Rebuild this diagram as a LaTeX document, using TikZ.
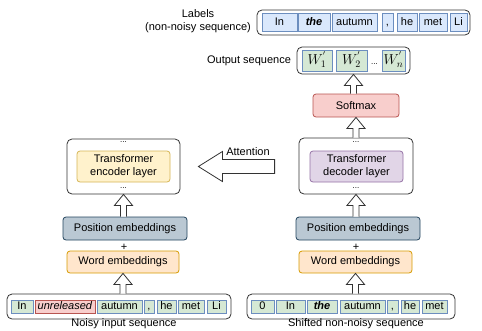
\documentclass[tikz,border=0pt]{standalone}
\usepackage[no-math]{fontspec}
\setmainfont{Liberation Sans}
\usepackage{amsmath}
\usetikzlibrary{calc}

\definecolor{tokgreen}{HTML}{D5E8D4}
\definecolor{tokblue}{HTML}{DAE8FC}
\definecolor{edgeblue}{HTML}{6C8EBF}
\definecolor{tokred}{HTML}{F8CECC}
\definecolor{edgered}{HTML}{B85450}
\definecolor{weorange}{HTML}{FFE6CC}
\definecolor{edgeorange}{HTML}{D79B00}
\definecolor{pegray}{HTML}{BAC8D3}
\definecolor{edgegray}{HTML}{23445D}
\definecolor{encyellow}{HTML}{FFF2CC}
\definecolor{edgeyellow}{HTML}{D6B656}
\definecolor{decpurple}{HTML}{E1D5E7}
\definecolor{edgepurple}{HTML}{9673A6}

% block arrow pointing up, from #1 (bottom) to #2 (top)
\newcommand{\blockup}[2]{%
  \draw[blockarr] let \p1=(#1), \p2=(#2) in
    (\x2-3pt,\y1) -- (\x2-3pt,\y2-11pt) -- (\x2-9pt,\y2-11pt) -- (\x2,\y2)
    -- (\x2+9pt,\y2-11pt) -- (\x2+3pt,\y2-11pt) -- (\x2+3pt,\y1);}

\begin{document}
\begin{tikzpicture}[x=1pt,y=-1pt,font=\fontsize{11}{13}\selectfont,
    outer/.style={draw=black!80,fill=white,rounded corners=5pt,line width=0.8pt},
    tokg/.style={draw=edgeblue,fill=tokgreen,inner sep=0pt,line width=0.6pt,text height=8pt,text depth=2pt},
    tokb/.style={tokg,fill=tokblue},
    tokr/.style={tokg,draw=edgered,fill=tokred},
    block/.style={rounded corners=3pt,line width=0.8pt,inner sep=0pt,align=center},
    dots/.style={font=\fontsize{8}{8}\selectfont,inner sep=0pt},
    blockarr/.style={draw=black!80,fill=white,line width=0.8pt,line join=miter}]
  \useasboundingbox (0,0) rectangle (482,330);

  % labels (top row)
  \node[align=center] (lbltxt) at (198,21.5) {Labels\\(non-noisy sequence)};
  \node[outer,minimum width=213,minimum height=25] (lbl) at (363.5,22.5) {};
  \foreach \nm/\xa/\xb/\t in {l1/262/297/In, l2/298/330/{\textbf{\textit{the}}}, l3/332/377/autumn,
      l4/382/393/{,}, l5/397/417/he, l6/419/447/met, l7/450/467/Li}
    \node[tokb,minimum width={\xb-\xa},minimum height=18] (\nm) at ({(\xa+\xb)/2},22.5) {\t};

  % output sequence
  \node (outtxt) at (249,61) {Output sequence};
  \node[outer,minimum width=113,minimum height=27] (out) at (353.5,60.5) {};
  \foreach \nm/\xa/\xb/\t in {w1/302/332/{$W_1^{'}$}, w2/336/367/{$W_2^{'}$}, wn/382/405/{$W_n^{'}$}}
    \node[tokg,font=\fontsize{14}{16}\selectfont,minimum width={\xb-\xa},minimum height=21,
      text height=11pt,text depth=3.5pt] (\nm) at ({(\xa+\xb)/2},60.5) {\t};
  \node[dots] (wdots) at (374.5,64) {...};

  % decoder side
  \node[block,draw=edgered,fill=tokred,minimum width=86,minimum height=23] (soft) at (356,105.5) {Softmax};
  \node[outer,minimum width=114,minimum height=56] (dec) at (356,166) {};
  \node[block,draw=edgepurple,fill=decpurple,minimum width=93,minimum height=31] (decl) at (356.5,166.5) {Transformer\\decoder layer};
  \node[dots] (dtop) at (356,142) {...};
  \node[dots] (dbot) at (356,188) {...};
  \node[block,draw=edgegray,fill=pegray,minimum width=124,minimum height=23] (rpe) at (358,228.5) {Position embeddings};
  \node (rplus) at (356,247) {+};
  \node[block,draw=edgeorange,fill=weorange,minimum width=113,minimum height=22] (rwe) at (355.5,262) {Word embeddings};

  % encoder side
  \node[outer,minimum width=113,minimum height=55] (enc) at (123.5,166.5) {};
  \node[block,draw=edgeyellow,fill=encyellow,minimum width=93,minimum height=31] (encl) at (123.5,166.5) {Transformer\\encoder layer};
  \node[dots] (etop) at (123.5,142) {...};
  \node[dots] (ebot) at (123.5,188) {...};
  \node[block,draw=edgegray,fill=pegray,minimum width=124,minimum height=23] (lpe) at (125,228.5) {Position embeddings};
  \node (lplus) at (124,247) {+};
  \node[block,draw=edgeorange,fill=weorange,minimum width=112,minimum height=22] (lwe) at (123,262) {Word embeddings};

  % noisy input (bottom left)
  \node[outer,minimum width=224,minimum height=25] (lin) at (119,306.5) {};
  \foreach \nm/\xa/\xb/\t in {n1/11/33/In, n3/97/142/autumn, n4/144/154/{,},
      n5/157/176/he, n6/178/204/met, n7/207/226/Li}
    \node[tokg,minimum width={\xb-\xa},minimum height=13] (\nm) at ({(\xa+\xb)/2},306.5) {\t};
  \node[tokr,minimum width=60,minimum height=13] (n2) at (65,306.5) {\textit{unreleased}};
  \node (lcap) at (124,324) {Noisy input sequence};

  % shifted sequence (bottom right)
  \node[outer,minimum width=208,minimum height=25] (rin) at (351,306.5) {};
  \foreach \nm/\xa/\xb/\t in {s1/251/274/0, s2/276/305/In, s3/307/337/{\textbf{\textit{the}}},
      s4/340/385/autumn, s5/387/398/{,}, s6/401/419/he, s7/422/447/met}
    \node[tokg,minimum width={\xb-\xa},minimum height=13] (\nm) at ({(\xa+\xb)/2},306.5) {\t};
  \node (rcap) at (356,324) {Shifted non-noisy sequence};

  % block arrows
  \blockup{lin.north}{lwe.south}
  \blockup{lpe.north}{enc.south}
  \blockup{rin.north}{rwe.south}
  \blockup{rpe.north}{dec.south}
  \blockup{dec.north}{soft.south}
  \blockup{soft.north}{out.south}

  % attention
  \draw[blockarr] let \p1=(enc.east), \p2=(dec.west) in
    (\x1+18pt,\y1) -- (\x1+42pt,\y1+15pt) -- (\x1+42pt,\y1+7pt) -- (\x2-24pt,\y1+7pt)
    -- (\x2-24pt,\y1-7pt) -- (\x1+42pt,\y1-7pt) -- (\x1+42pt,\y1-15pt) -- cycle;
  \node (attn) at (248,151.5) {Attention};
\end{tikzpicture}
\end{document}
